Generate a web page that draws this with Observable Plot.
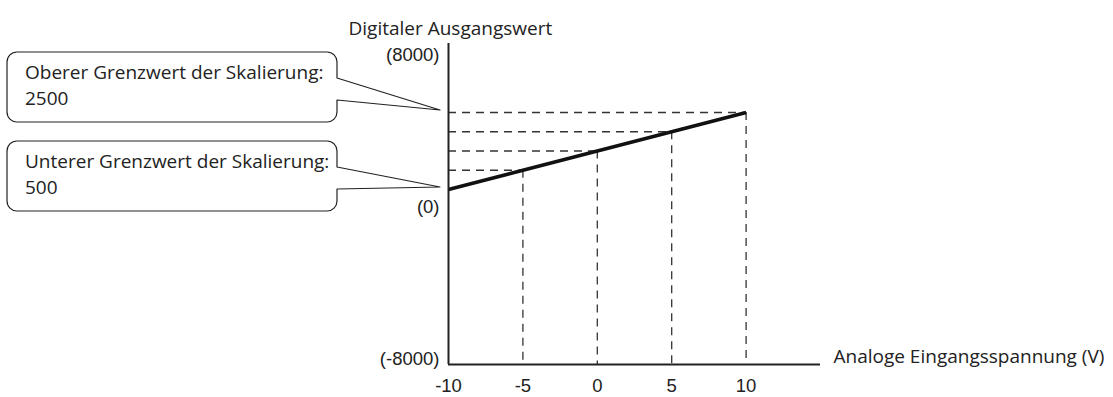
<!DOCTYPE html>
<html>
<head>
<meta charset="utf-8">
<script src="https://cdn.jsdelivr.net/npm/d3@7"></script>
<script src="https://cdn.jsdelivr.net/npm/@observablehq/plot@0.6"></script>
<style>
  html, body { margin: 0; padding: 0; background: #fff; }
  #chart svg { display: block; }
</style>
</head>
<body>
<div id="chart"></div>
<script>
// ---- data ----
const voltage = [-10, -5, 0, 5, 10];            // analog input (V)
const digital = [500, 1000, 1500, 2000, 2500];  // digital output value
const xTicks = [-10, -5, 0, 5, 10];
const yTickValues = [-8000, 0, 8000];
const yTickLabels = ["(-8000)", "(0)", "(8000)"];
const calloutValues = [2500, 500];
const calloutLines = [
  ["Oberer Grenzwert der Skalierung:", "2500"],
  ["Unterer Grenzwert der Skalierung:", "500"]
];
const xTitle = "Analoge Eingangsspannung (V)";
const yTitle = "Digitaler Ausgangswert";

const points = voltage.map((v, i) => ({v, d: digital[i]}));
const guides = points.slice(1);
const yLabels = yTickValues.map((y, i) => ({y, label: yTickLabels[i]}));
const callouts = calloutValues.map((value, i) => ({value, lines: calloutLines[i]}));

const textFont = "'Open Sans', 'Noto Sans', sans-serif";
const tickFont = "'Liberation Sans', Arial, sans-serif";
const ink = "#222";

// callout boxes (annotation) anchored to the y axis via the scales
function calloutMark(index, scales) {
  const g = d3.create("svg:g");
  const tipX = scales.x(-10) - 8;
  const left = 7, right = 337, r = 10, h = 70;
  const topOffsets = [-58, -46];
  callouts.forEach((c, i) => {
    const tipY = scales.y(c.value) - 2;
    const top = tipY + topOffsets[i];
    const bottom = top + h;
    const a1 = top + 26, a2 = top + 48;
    const p = d3.path();
    p.moveTo(left + r, top);
    p.lineTo(right - r, top);
    p.arcTo(right, top, right, top + r, r);
    p.lineTo(right, a1);
    p.lineTo(tipX, tipY);
    p.lineTo(right, a2);
    p.lineTo(right, bottom - r);
    p.arcTo(right, bottom, right - r, bottom, r);
    p.lineTo(left + r, bottom);
    p.arcTo(left, bottom, left, bottom - r, r);
    p.lineTo(left, top + r);
    p.arcTo(left, top, left + r, top, r);
    p.closePath();
    g.append("path")
      .attr("d", p.toString())
      .attr("fill", "white")
      .attr("stroke", ink)
      .attr("stroke-width", 1.2)
      .attr("stroke-linejoin", "round");
    c.lines.forEach((line, j) => {
      g.append("text")
        .attr("x", 25)
        .attr("y", top + 27 + j * 25.5)
        .attr("text-anchor", "start")
        .attr("font-family", textFont)
        .attr("font-size", 19)
        .attr("fill", ink)
        .text(line);
    });
  });
  return g.node();
}

const dash = {stroke: "#333", strokeWidth: 1.3, strokeDasharray: "8,6"};

const chart = Plot.plot({
  width: 1113,
  height: 397,
  marginLeft: 448,
  marginRight: 293,
  marginTop: 43,
  marginBottom: 33,
  x: {domain: [-10, 15], axis: null},
  y: {type: "linear", domain: [-8000, 0, 500, 2500, 8000], range: [364, 212, 189, 112, 60], axis: null},
  style: {background: "white"},
  marks: [
    // dashed guide lines
    Plot.ruleX(guides, {x: "v", y1: "d", y2: -8000, ...dash}),
    Plot.ruleY(guides, {y: "d", x1: -10, x2: "v", ...dash}),
    // scaling line
    Plot.line(points, {x: "v", y: "d", stroke: "#111", strokeWidth: 3.6, strokeLinecap: "butt"}),
    // axes lines
    Plot.ruleX([-10], {stroke: ink, strokeWidth: 2}),
    Plot.ruleY([-8000], {stroke: ink, strokeWidth: 2}),
    // tick labels
    Plot.text(xTicks, {x: d => d, y: -8000, dy: 22, text: d => String(d), fontFamily: tickFont, fontSize: 18.5, fill: ink}),
    Plot.text(yLabels, {x: -10, y: "y", text: "label", dx: -9, dy: -5, textAnchor: "end", fontFamily: tickFont, fontSize: 18.5, fill: ink}),
    // axis titles
    Plot.text([yTitle], {frameAnchor: "top-left", dx: -100, dy: -22, textAnchor: "start", fontFamily: textFont, fontSize: 19, fill: ink}),
    Plot.text([xTitle], {frameAnchor: "bottom-right", dx: 13, dy: -2, textAnchor: "start", fontFamily: textFont, fontSize: 19, fill: ink}),
    // callouts
    calloutMark
  ]
});
document.getElementById("chart").appendChild(chart);
</script>
</body>
</html>
